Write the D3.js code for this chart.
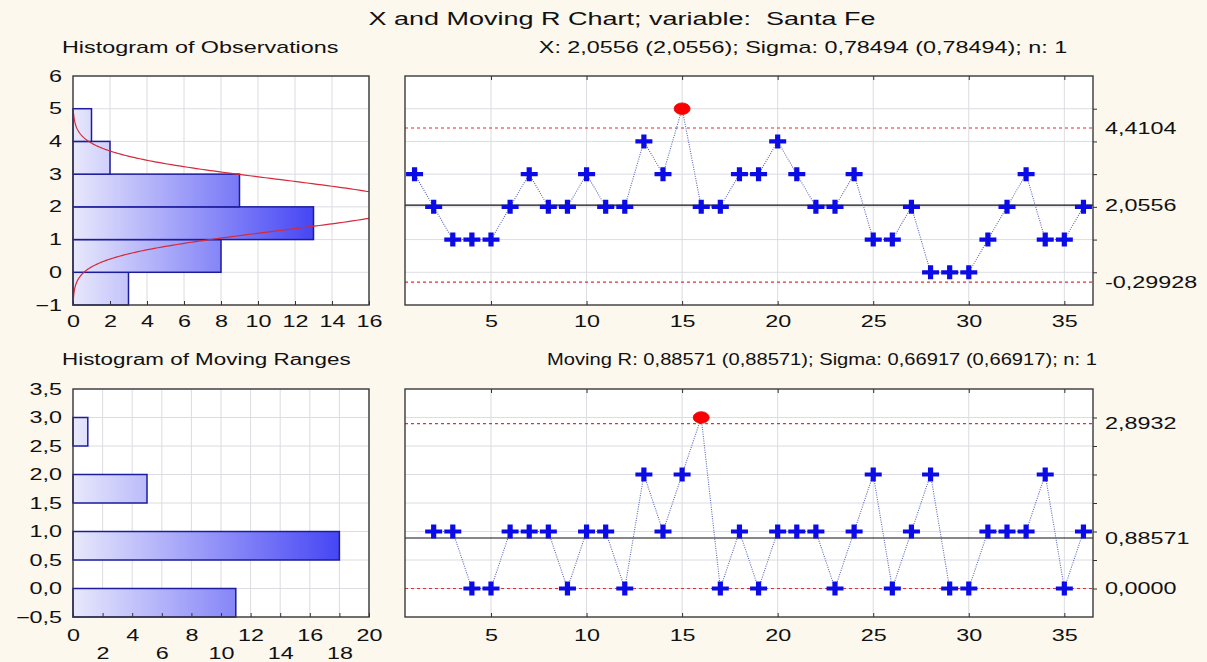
<!DOCTYPE html>
<html>
<head>
<meta charset="utf-8">
<script src="https://cdn.jsdelivr.net/npm/d3@7"></script>
<style>
  html, body { margin: 0; padding: 0; background: #fcf8ee; }
  svg { display: block; }
  text { font-family: "Liberation Sans", Arial, sans-serif; font-size: 16px; fill: #111; white-space: pre; }
</style>
</head>
<body>
<script>
// ---------------- DATA ----------------
const chartTitle = "X and Moving R Chart; variable:  Santa Fe";
const histObsTitle = "Histogram of Observations";
const histMRTitle = "Histogram of Moving Ranges";
const xStatsText = "X: 2,0556 (2,0556); Sigma: 0,78494 (0,78494); n: 1";
const mrStatsText = "Moving R: 0,88571 (0,88571); Sigma: 0,66917 (0,66917); n: 1";

// Individual observations, samples 1..36
const sampleX = [1,2,3,4,5,6,7,8,9,10,11,12,13,14,15,16,17,18,19,20,21,22,23,24,25,26,27,28,29,30,31,32,33,34,35,36];
const obsValues = [3,2,1,1,1,2,3,2,2,3,2,2,4,3,5,2,2,3,3,4,3,2,2,3,1,1,2,0,0,0,1,2,3,1,1,2];
// Moving ranges, samples 2..36
const sampleMR = [2,3,4,5,6,7,8,9,10,11,12,13,14,15,16,17,18,19,20,21,22,23,24,25,26,27,28,29,30,31,32,33,34,35,36];
const mrValues = [1,1,0,0,1,1,1,0,1,1,0,2,1,2,3,0,1,0,1,1,1,0,1,2,0,1,2,0,0,1,1,1,2,0,1];

// Control limits
const xLimits = { ucl: 4.4104, cl: 2.0556, lcl: -0.29928 };
const xLimitLabels = ["4,4104", "2,0556", "-0,29928"];
const xSigma = 0.78494;
const mrLimits = { ucl: 2.8932, cl: 0.88571, lcl: 0.0 };
const mrLimitLabels = ["2,8932", "0,88571", "0,0000"];

// Histogram of observations
const obsBinLow  = [-1, 0, 1, 2, 3, 4];
const obsBinHigh = [ 0, 1, 2, 3, 4, 5];
const obsCounts  = [ 3, 8, 13, 9, 2, 1];
// Histogram of moving ranges
const mrBinLow  = [-0.5, 0.5, 1.5, 2.5];
const mrBinHigh = [ 0.0, 1.0, 2.0, 3.0];
const mrCounts  = [11, 18, 5, 1];

// Axis ticks
const obsHistXTicks = [0,2,4,6,8,10,12,14,16];
const obsHistYTicks = [-1,0,1,2,3,4,5,6];
const mrHistXTicks = [0,2,4,6,8,10,12,14,16,18,20];
const mrHistYTicks = [-0.5,0,0.5,1,1.5,2,2.5,3,3.5];
const sampleTicks = [5,10,15,20,25,30,35];

// ---------------- LAYOUT ----------------
const W = 1207, H = 662;
const SX = 1.46; // horizontal text stretch of the reference
const histL = 73, histR = 369, ctlL = 405, ctlR = 1093;
const topT = 76, topB = 305, botT = 389, botB = 617;

const loc = d3.formatLocale({decimal: ",", thousands: ".", grouping: [3], currency: ["", ""]});
const f0 = loc.format("d"), f1 = loc.format(".1f");

const svg = d3.select("body").append("svg").attr("width", W).attr("height", H);
svg.append("rect").attr("width", W).attr("height", H).attr("fill", "#fcf8ee");
const defs = svg.append("defs");

function stretchText(sel) {
  sel.each(function() {
    const t = d3.select(this);
    const x = +t.attr("x") || 0;
    t.attr("x", x / SX).attr("transform", `scale(${SX},1)`);
  });
}
function label(x, y, s, anchor, sx, size) {
  return svg.append("text")
    .attr("transform", `translate(${x},${y}) scale(${sx || SX},1)`)
    .attr("text-anchor", anchor || "start")
    .attr("xml:space", "preserve")
    .style("font-size", (size || 16) + "px")
    .text(s);
}

// Titles
label(622, 25, chartTitle, "middle", SX, 18.5);
label(62, 53, histObsTitle, "start");
label(803, 53, xStatsText, "middle");
label(62, 365, histMRTitle, "start", 1.40);
label(822, 365, mrStatsText, "middle", 1.26);

function plotBg(l, t, r, b) {
  svg.append("rect").attr("x", l).attr("y", t).attr("width", r - l).attr("height", b - t)
    .attr("fill", "#ffffff");
}
function frame(l, t, r, b) {
  svg.append("rect").attr("x", l).attr("y", t).attr("width", r - l).attr("height", b - t)
    .attr("fill", "none").attr("stroke", "#3a3a3a").attr("stroke-width", 1.4);
}
function grid(xs, ys, xTicks, yTicks, l, t, r, b) {
  const g = svg.append("g").attr("stroke", "#dcdce2").attr("stroke-width", 1);
  g.selectAll(".gx").data(xTicks).join("line")
    .attr("x1", d => xs(d)).attr("x2", d => xs(d)).attr("y1", t).attr("y2", b);
  g.selectAll(".gy").data(yTicks).join("line")
    .attr("x1", l).attr("x2", r).attr("y1", d => ys(d)).attr("y2", d => ys(d));
}
function styleAxis(g) {
  g.select(".domain").remove();
  g.selectAll("line").attr("stroke", "#333");
  g.selectAll("text").attr("fill", "#111").style("font-size", "16px")
    .style("font-family", '"Liberation Sans", Arial, sans-serif');
}

// ---------- Histogram helper ----------
function histogram(opts) {
  const {l, t, r, b, xDom, yDom, xTicks, yTicks, lows, highs, counts, maxCount, gradId, yFmt} = opts;
  const xs = d3.scaleLinear().domain(xDom).range([l, r]);
  const ys = d3.scaleLinear().domain(yDom).range([b, t]);
  plotBg(l, t, r, b);
  grid(xs, ys, xTicks, yTicks, l, t, r, b);

  const grad = defs.append("linearGradient").attr("id", gradId)
    .attr("gradientUnits", "userSpaceOnUse")
    .attr("x1", xs(0)).attr("x2", xs(maxCount)).attr("y1", 0).attr("y2", 0);
  grad.append("stop").attr("offset", 0).attr("stop-color", "#e8e8fc");
  grad.append("stop").attr("offset", 1).attr("stop-color", "#4646f5");

  svg.append("g").selectAll("rect").data(counts).join("rect")
    .attr("x", xs(0))
    .attr("y", (d, i) => ys(highs[i]))
    .attr("width", d => xs(d) - xs(0))
    .attr("height", (d, i) => ys(lows[i]) - ys(highs[i]))
    .attr("fill", `url(#${gradId})`)
    .attr("stroke", "#1c1c9c").attr("stroke-width", 1.5);

  const ay = svg.append("g").attr("transform", `translate(${l},0)`)
    .call(d3.axisLeft(ys).tickValues(yTicks).tickSize(0).tickPadding(11).tickFormat(yFmt));
  styleAxis(ay);
  stretchText(ay.selectAll("text"));
  return {xs, ys};
}

// ---------- Top histogram ----------
const h1 = histogram({l: histL, t: topT, r: histR, b: topB, xDom: [0, 16], yDom: [-1, 6],
  xTicks: obsHistXTicks, yTicks: obsHistYTicks, lows: obsBinLow, highs: obsBinHigh,
  counts: obsCounts, maxCount: 13, gradId: "g1", yFmt: f0});

// fitted normal curve (mean/sigma of chart, scaled to n * bin width)
const clip1 = defs.append("clipPath").attr("id", "clip1");
clip1.append("rect").attr("x", histL).attr("y", topT).attr("width", histR - histL).attr("height", topB - topT);
const nObs = obsValues.length;
const curveY = d3.range(-0.85, 4.86, 0.02);
svg.append("path")
  .datum(curveY)
  .attr("clip-path", "url(#clip1)")
  .attr("fill", "none").attr("stroke", "#d42a3a").attr("stroke-width", 1.2)
  .attr("d", d3.line()
    .x(y => h1.xs(nObs * Math.exp(-((y - xLimits.cl) ** 2) / (2 * xSigma * xSigma)) / (xSigma * Math.sqrt(2 * Math.PI))))
    .y(y => h1.ys(y)));
frame(histL, topT, histR, topB);
{
  const ax = svg.append("g").attr("transform", `translate(0,${topB})`)
    .call(d3.axisBottom(h1.xs).tickValues(obsHistXTicks).tickSizeInner(-4).tickSizeOuter(0).tickPadding(11).tickFormat(f0));
  styleAxis(ax);
  stretchText(ax.selectAll("text"));
}

// ---------- Bottom histogram ----------
const h2 = histogram({l: histL, t: botT, r: histR, b: botB, xDom: [0, 20], yDom: [-0.5, 3.5],
  xTicks: mrHistXTicks, yTicks: mrHistYTicks, lows: mrBinLow, highs: mrBinHigh,
  counts: mrCounts, maxCount: 18, gradId: "g2", yFmt: f1});
frame(histL, botT, histR, botB);
{
  const ax1 = svg.append("g").attr("transform", `translate(0,${botB})`)
    .call(d3.axisBottom(h2.xs).tickValues(mrHistXTicks.filter((d, i) => i % 2 === 0))
      .tickSizeInner(-4).tickSizeOuter(0).tickPadding(13).tickFormat(f0));
  styleAxis(ax1);
  stretchText(ax1.selectAll("text"));
  const ax2 = svg.append("g").attr("transform", `translate(0,${botB})`)
    .call(d3.axisBottom(h2.xs).tickValues(mrHistXTicks.filter((d, i) => i % 2 === 1))
      .tickSizeInner(-4).tickSizeOuter(0).tickPadding(31).tickFormat(f0));
  styleAxis(ax2);
  stretchText(ax2.selectAll("text"));
}

// ---------- Control chart helper ----------
function controlChart(opts) {
  const {t, b, yDom, yGrid, xsData, ysData, lim, limLabels, pad} = opts;
  const xs = d3.scaleLinear().domain([0.5, 36.5]).range([ctlL, ctlR]);
  const ys = d3.scaleLinear().domain(yDom).range([b, t]);
  plotBg(ctlL, t, ctlR, b);
  grid(xs, ys, sampleTicks, yGrid, ctlL, t, ctlR, b);

  // limit lines
  const lines = [[lim.ucl, true], [lim.cl, false], [lim.lcl, true]];
  svg.append("g").selectAll("line").data(lines).join("line")
    .attr("x1", ctlL).attr("x2", ctlR)
    .attr("y1", d => ys(d[0])).attr("y2", d => ys(d[0]))
    .attr("stroke", d => d[1] ? "#e03030" : "#111")
    .attr("stroke-width", d => d[1] ? 1.1 : 1.2)
    .attr("stroke-dasharray", d => d[1] ? "3,3" : null);

  // connecting dotted line
  svg.append("path").datum(ysData)
    .attr("fill", "none").attr("stroke", "#5a66b8").attr("stroke-width", 1.1)
    .attr("stroke-dasharray", "1,1.3")
    .attr("d", d3.line().x((d, i) => xs(xsData[i])).y(d => ys(d)));

  // markers
  const pts = ysData.map((v, i) => ({x: xsData[i], v, out: v > lim.ucl || v < lim.lcl}));
  svg.append("g").selectAll("path").data(pts.filter(p => !p.out)).join("path")
    .attr("transform", p => `translate(${xs(p.x)},${ys(p.v)})`)
    .attr("d", "M-8.5,-2.1h17v4.2h-17z M-2.6,-7h5.2v14h-5.2z")
    .attr("fill", "#0b0be8");
  svg.append("g").selectAll("ellipse").data(pts.filter(p => p.out)).join("ellipse")
    .attr("cx", p => xs(p.x)).attr("cy", p => ys(p.v))
    .attr("rx", 8).attr("ry", 5.8)
    .attr("fill", "#fa0000").attr("stroke", "#e00000").attr("stroke-width", 0.8);

  frame(ctlL, t, ctlR, b);

  const ax = svg.append("g").attr("transform", `translate(0,${b})`)
    .call(d3.axisBottom(xs).tickValues(sampleTicks).tickSizeInner(-4).tickSizeOuter(0).tickPadding(pad).tickFormat(f0));
  styleAxis(ax);
  stretchText(ax.selectAll("text"));
  const axt = svg.append("g").attr("transform", `translate(0,${t})`)
    .call(d3.axisTop(xs).tickValues(sampleTicks).tickSizeInner(-4).tickSizeOuter(0).tickFormat(""));
  styleAxis(axt);
  const ar = svg.append("g").attr("transform", `translate(${ctlR},0)`)
    .call(d3.axisRight(ys).tickValues(yGrid).tickSizeInner(4).tickSizeOuter(0).tickFormat(""));
  styleAxis(ar);
  const arl = svg.append("g").attr("transform", `translate(${ctlR},0)`)
    .call(d3.axisRight(ys).tickValues([lim.ucl, lim.cl, lim.lcl]).tickSize(0).tickPadding(12)
      .tickFormat((d, i) => limLabels[i]));
  styleAxis(arl);
  stretchText(arl.selectAll("text"));
}

controlChart({t: topT, b: topB, yDom: [-1, 6], yGrid: [0, 1, 2, 3, 4, 5],
  xsData: sampleX, ysData: obsValues, lim: xLimits, limLabels: xLimitLabels, pad: 11});
controlChart({t: botT, b: botB, yDom: [-0.5, 3.5], yGrid: [0, 0.5, 1, 1.5, 2, 2.5, 3],
  xsData: sampleMR, ysData: mrValues, lim: mrLimits, limLabels: mrLimitLabels, pad: 13});
</script>
</body>
</html>
